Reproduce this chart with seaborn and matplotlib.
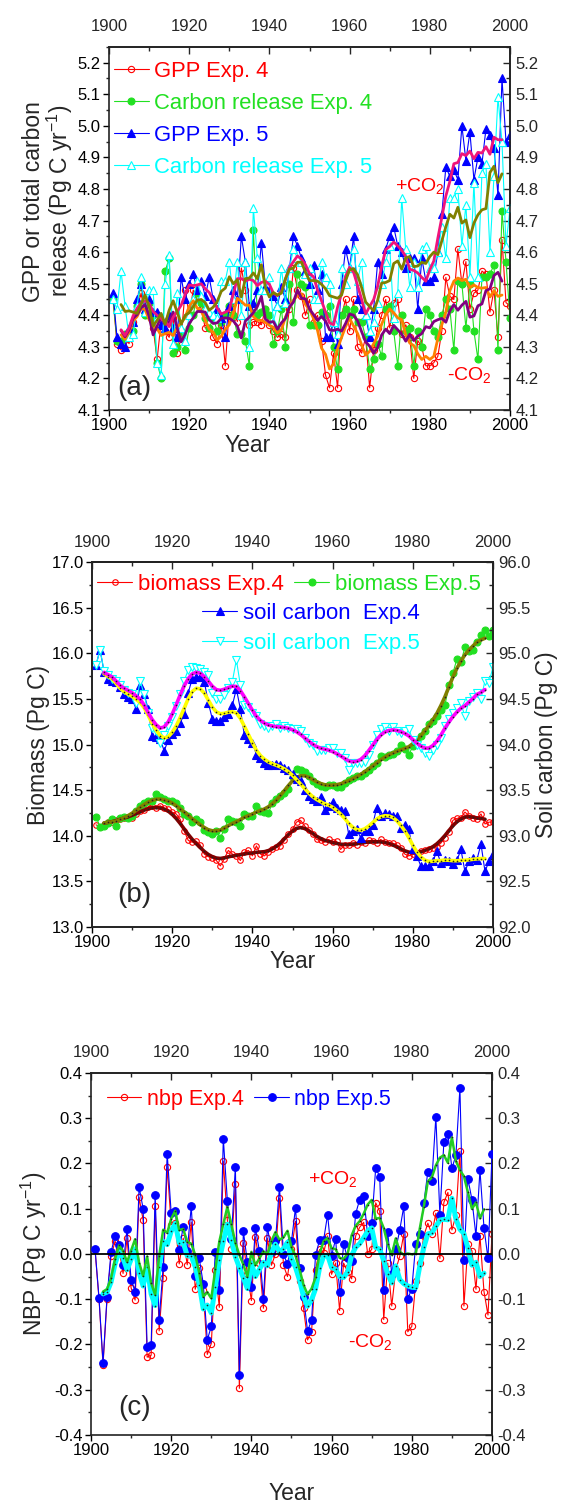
import numpy as np
import pandas as pd
import matplotlib
matplotlib.use("Agg")
import matplotlib.pyplot as plt
import seaborn as sns
from matplotlib.lines import Line2D
from matplotlib.ticker import MultipleLocator, FormatStrFormatter

sns.set_theme(style="ticks")
plt.rcParams["font.family"] = ["Liberation Sans", "DejaVu Sans"]
plt.rcParams["mathtext.fontset"] = "custom"
plt.rcParams["mathtext.rm"] = "Liberation Sans"
plt.rcParams["mathtext.it"] = "Liberation Sans:italic"
plt.rcParams["mathtext.default"] = "regular"

# ---------------- data ----------------
years = np.arange(1901, 2001)

# panel (a)
gpp_exp4 = [4.45, 4.31, 4.29, 4.33, 4.31, 4.38, 4.42, 4.47, 4.40, 4.44,
            4.36, 4.26, 4.38, 4.35, 4.33, 4.39, 4.28, 4.33, 4.48, 4.40,
            4.48, 4.45, 4.42, 4.36, 4.36, 4.33, 4.31, 4.37, 4.24, 4.42,
            4.44, 4.38, 4.55, 4.48, 4.37, 4.38, 4.38, 4.37, 4.42, 4.37,
            4.35, 4.33, 4.34, 4.33, 4.42, 4.55, 4.48, 4.46, 4.40, 4.45,
            4.38, 4.40, 4.32, 4.21, 4.17, 4.28, 4.17, 4.40, 4.45, 4.35,
            4.45, 4.30, 4.28, 4.33, 4.17, 4.29, 4.36, 4.40, 4.45, 4.36,
            4.44, 4.45, 4.34, 4.37, 4.33, 4.20, 4.32, 4.30, 4.24, 4.24,
            4.25, 4.27, 4.35, 4.52, 4.46, 4.45, 4.61, 4.50, 4.57, 4.42,
            4.47, 4.48, 4.54, 4.53, 4.41, 4.48, 4.33, 4.64, 4.44, 4.43]
crel_exp4 = [4.45, 4.32, 4.32, 4.34, 4.33, 4.35, 4.43, 4.50, 4.40, 4.44,
             4.40, 4.25, 4.20, 4.54, 4.58, 4.28, 4.30, 4.35, 4.29, 4.36,
             4.40, 4.47, 4.44, 4.39, 4.36, 4.39, 4.35, 4.38, 4.40, 4.43,
             4.40, 4.34, 4.34, 4.32, 4.24, 4.67, 4.40, 4.41, 4.42, 4.40,
             4.31, 4.35, 4.42, 4.30, 4.50, 4.38, 4.53, 4.50, 4.49, 4.37,
             4.37, 4.37, 4.41, 4.40, 4.43, 4.30, 4.23, 4.40, 4.42, 4.40,
             4.42, 4.38, 4.38, 4.33, 4.23, 4.26, 4.31, 4.27, 4.42, 4.43,
             4.35, 4.24, 4.40, 4.35, 4.36, 4.24, 4.35, 4.30, 4.42, 4.40,
             4.35, 4.33, 4.40, 4.45, 4.42, 4.29, 4.51, 4.50, 4.36, 4.50,
             4.35, 4.26, 4.52, 4.52, 4.53, 4.56, 4.29, 4.73, 4.57, 4.39]
gpp_exp5 = [4.47, 4.33, 4.31, 4.30, 4.36, 4.38, 4.45, 4.50, 4.42, 4.45,
            4.41, 4.41, 4.37, 4.36, 4.40, 4.36, 4.33, 4.52, 4.45, 4.50,
            4.53, 4.48, 4.51, 4.46, 4.52, 4.45, 4.42, 4.39, 4.33, 4.43,
            4.48, 4.45, 4.65, 4.57, 4.43, 4.44, 4.48, 4.63, 4.49, 4.48,
            4.46, 4.43, 4.49, 4.45, 4.55, 4.65, 4.62, 4.58, 4.54, 4.50,
            4.56, 4.48, 4.53, 4.33, 4.33, 4.38, 4.31, 4.50, 4.61, 4.55,
            4.65, 4.45, 4.42, 4.40, 4.33, 4.42, 4.57, 4.53, 4.61, 4.65,
            4.68, 4.62, 4.60, 4.55, 4.58, 4.58, 4.42, 4.58, 4.51, 4.51,
            4.52, 4.60, 4.72, 4.87, 4.84, 4.86, 4.83, 5.00, 4.89, 4.98,
            4.83, 4.90, 4.88, 4.99, 4.97, 4.93, 4.78, 5.15, 4.95, 4.97]
crel_exp5 = [4.45, 4.42, 4.54, 4.43, 4.33, 4.34, 4.43, 4.52, 4.41, 4.48,
             4.48, 4.25, 4.21, 4.50, 4.59, 4.31, 4.47, 4.36, 4.32, 4.40,
             4.45, 4.51, 4.46, 4.42, 4.41, 4.40, 4.39, 4.51, 4.51, 4.57,
             4.45, 4.57, 4.40, 4.57, 4.30, 4.74, 4.58, 4.48, 4.48, 4.52,
             4.38, 4.43, 4.55, 4.44, 4.55, 4.61, 4.58, 4.57, 4.53, 4.55,
             4.45, 4.45, 4.57, 4.52, 4.50, 4.38, 4.34, 4.55, 4.50, 4.55,
             4.61, 4.51, 4.57, 4.40, 4.35, 4.38, 4.44, 4.50, 4.57, 4.62,
             4.39, 4.47, 4.77, 4.61, 4.49, 4.57, 4.49, 4.61, 4.62, 4.55,
             4.55, 4.60, 4.68, 4.58, 4.77, 4.77, 4.80, 4.62, 4.75, 4.52,
             4.82, 4.52, 4.85, 4.88, 4.60, 4.84, 5.09, 4.95, 4.62, 4.74]

# panel (b)
biomass_exp4 = [14.12, 14.10, 14.12, 14.15, 14.15, 14.17, 14.18, 14.20, 14.21, 14.20,
                14.24, 14.27, 14.28, 14.32, 14.33, 14.31, 14.33, 14.30, 14.29, 14.26,
                14.24, 14.18, 14.05, 13.95, 13.93, 13.94, 13.90, 13.80, 13.77, 13.76,
                13.73, 13.67, 13.75, 13.84, 13.80, 13.78, 13.73, 13.82, 13.84, 13.78,
                13.89, 13.80, 13.78, 13.82, 13.85, 13.88, 13.89, 13.95, 14.02, 14.07,
                14.15, 14.17, 14.11, 14.06, 14.02, 13.96, 13.95, 13.93, 13.96, 13.93,
                13.94, 13.85, 13.90, 13.90, 13.92, 13.90, 13.93, 13.92, 13.95, 13.94,
                13.92, 13.96, 13.93, 13.92, 13.92, 13.90, 13.87, 13.80, 13.78, 13.80,
                13.80, 13.83, 13.84, 13.85, 13.87, 13.88, 13.92, 13.98, 14.04, 14.17,
                14.19, 14.20, 14.26, 14.22, 14.20, 14.18, 14.24, 14.13, 14.15, 14.15]
biomass_exp5 = [14.21, 14.10, 14.11, 14.14, 14.18, 14.11, 14.19, 14.21, 14.20, 14.22,
                14.27, 14.33, 14.36, 14.38, 14.38, 14.46, 14.42, 14.40, 14.38, 14.38,
                14.36, 14.31, 14.24, 14.22, 14.15, 14.18, 14.15, 14.06, 14.04, 14.02,
                14.05, 13.98, 14.07, 14.18, 14.16, 14.15, 14.11, 14.24, 14.22, 14.22,
                14.33, 14.27, 14.26, 14.25, 14.36, 14.40, 14.44, 14.47, 14.51, 14.64,
                14.73, 14.72, 14.70, 14.65, 14.60, 14.57, 14.55, 14.54, 14.56, 14.56,
                14.54, 14.54, 14.58, 14.61, 14.63, 14.65, 14.66, 14.69, 14.72, 14.76,
                14.80, 14.87, 14.86, 14.89, 14.90, 14.93, 15.00, 14.95, 14.89, 14.98,
                15.05, 15.09, 15.15, 15.22, 15.26, 15.31, 15.38, 15.43, 15.65, 15.78,
                15.94, 15.90, 16.07, 16.02, 16.04, 16.12, 16.20, 16.26, 16.19, 16.26]
soil_exp4 = [94.87, 95.04, 94.80, 94.72, 94.70, 94.69, 94.63, 94.55, 94.52, 94.50,
             94.39, 94.65, 94.55, 94.39, 94.09, 94.08, 94.06, 93.93, 94.05, 94.12,
             94.15, 94.24, 94.33, 94.57, 94.72, 94.74, 94.74, 94.69, 94.46, 94.28,
             94.26, 94.26, 94.30, 94.33, 94.43, 94.61, 94.39, 94.10, 94.06, 94.02,
             93.89, 93.85, 93.80, 93.78, 93.78, 93.79, 93.78, 93.74, 93.72, 93.68,
             93.62, 93.60, 93.50, 93.44, 93.40, 93.38, 93.42, 93.28, 93.33, 93.37,
             93.30, 93.28, 93.27, 93.02, 93.05, 93.07, 92.98, 93.05, 93.05, 93.12,
             93.31, 93.22, 93.25, 93.24, 93.22, 93.22, 93.09, 93.12, 93.07, 92.85,
             92.78, 92.67, 92.67, 92.67, 92.72, 92.83, 92.70, 92.74, 92.72, 92.69,
             92.73, 92.85, 92.61, 92.72, 92.76, 92.74, 92.91, 92.61, 92.72, 92.80]
soil_exp5 = [94.87, 95.04, 94.81, 94.76, 94.72, 94.70, 94.65, 94.60, 94.57, 94.55,
             94.45, 94.70, 94.55, 94.35, 94.18, 94.15, 94.02, 94.10, 94.20, 94.30,
             94.42, 94.55, 94.70, 94.82, 94.85, 94.84, 94.83, 94.80, 94.76, 94.57,
             94.50, 94.50, 94.54, 94.62, 94.69, 94.93, 94.65, 94.43, 94.41, 94.35,
             94.31, 94.22, 94.20, 94.18, 94.20, 94.22, 94.18, 94.20, 94.18, 94.17,
             94.17, 94.15, 94.07, 94.02, 94.00, 93.93, 93.94, 93.94, 93.96, 93.96,
             93.91, 93.91, 93.85, 93.72, 93.80, 93.80, 93.80, 93.81, 93.89, 94.00,
             94.10, 94.17, 94.19, 94.15, 94.19, 94.15, 94.13, 94.15, 94.17, 94.05,
             94.00, 93.96, 93.91, 93.87, 93.94, 94.00, 94.07, 94.20, 94.28, 94.35,
             94.40, 94.45, 94.31, 94.48, 94.52, 94.57, 94.50, 94.70, 94.68, 94.85]

# panel (c)
nbp_exp4 = [0.010, -0.100, -0.245, -0.100, -0.005, 0.028, 0.010, -0.043, 0.035, -0.075,
            -0.102, 0.125, 0.075, -0.228, -0.224, 0.105, -0.170, -0.053, 0.193, 0.065,
            0.068, -0.022, 0.035, -0.024, 0.070, -0.078, -0.030, -0.080, -0.222, -0.198,
            -0.035, -0.118, 0.205, 0.075, 0.012, 0.155, -0.297, 0.025, -0.045, -0.103,
            0.038, -0.020, -0.120, 0.035, -0.025, 0.000, 0.123, -0.025, -0.050, 0.010,
            0.072, -0.060, -0.120, -0.190, -0.172, -0.035, 0.010, 0.002, 0.040, -0.045,
            -0.020, -0.125, -0.020, -0.040, -0.055, 0.040, 0.059, 0.070, 0.000, 0.010,
            0.113, 0.094, -0.145, -0.020, -0.115, -0.035, -0.005, 0.044, -0.172, -0.160,
            -0.060, -0.020, 0.040, 0.068, 0.044, 0.090, -0.010, 0.114, 0.136, 0.053,
            0.085, 0.227, -0.115, 0.022, 0.007, -0.078, 0.040, -0.083, -0.135, 0.044]
nbp_exp5 = [0.012, -0.097, -0.240, -0.095, 0.004, 0.040, 0.020, -0.025, 0.055, -0.057,
            -0.083, 0.148, 0.100, -0.205, -0.202, 0.131, -0.147, -0.028, 0.222, 0.090,
            0.096, 0.009, 0.060, 0.007, 0.105, -0.048, -0.010, -0.066, -0.190, -0.160,
            0.005, -0.080, 0.255, 0.118, 0.032, 0.193, -0.268, 0.050, -0.018, -0.073,
            0.057, 0.007, -0.099, 0.060, 0.004, 0.028, 0.149, 0.000, -0.023, 0.028,
            0.102, -0.032, -0.095, -0.170, -0.147, -0.002, 0.030, 0.030, 0.087, -0.004,
            0.033, -0.084, 0.022, -0.010, -0.015, 0.089, 0.120, 0.128, 0.040, 0.068,
            0.190, 0.171, -0.079, 0.048, -0.044, 0.010, 0.053, 0.105, -0.099, -0.077,
            0.023, 0.044, 0.112, 0.182, 0.161, 0.303, 0.087, 0.247, 0.266, 0.189,
            0.218, 0.367, -0.013, 0.166, 0.120, 0.040, 0.185, 0.058, -0.010, 0.220]

year_ticks = [1900, 1920, 1940, 1960, 1980, 2000]


def running_mean(v, w=5):
    return pd.Series(v).rolling(w, center=True).mean().to_numpy()


def smooth2(v):
    s1 = pd.Series(running_mean(v, 5))
    s2 = s1.rolling(5, center=True, min_periods=1).mean()
    s2[s1.isna()] = np.nan
    return s2.to_numpy()


RED, GREEN, BLUE, CYAN = "#FF0000", "#22E022", "#0000FF", "#00FFFF"
FS_TICK, FS_LAB = 12, 16.5


def data_line(ax, y, color, marker, ms, mfc, lw=0.8, z=2):
    sns.lineplot(x=years, y=y, ax=ax, color=color, lw=lw, marker=marker,
                 markersize=ms, markerfacecolor=mfc, markeredgecolor=color,
                 markeredgewidth=0.8, estimator=None, legend=False, zorder=z)


def smooth_line(ax, y, color, lw, dots=False, z=5):
    kw = {}
    if dots:
        kw = dict(marker="o", markersize=1.2, markerfacecolor="#222222",
                  markeredgecolor="#222222", markeredgewidth=0)
    sns.lineplot(x=years, y=y, ax=ax, color=color, lw=lw, estimator=None,
                 legend=False, zorder=z, **kw)


def style_axes(ax, ylim, ymaj, ymin, yfmt, right_secondary=True, top_pad=9):
    ax.set_xlim(1900, 2000)
    ax.set_ylim(*ylim)
    ax.set_xticks(year_ticks)
    ax.xaxis.set_minor_locator(MultipleLocator(10))
    ax.yaxis.set_major_locator(MultipleLocator(ymaj))
    ax.yaxis.set_minor_locator(MultipleLocator(ymin))
    ax.yaxis.set_major_formatter(FormatStrFormatter(yfmt))
    ax.tick_params(axis="both", which="major", direction="out", length=4,
                   width=1, labelsize=FS_TICK, colors="black", pad=2)
    ax.tick_params(axis="both", which="minor", direction="out", length=2.5, width=1)
    ax.tick_params(right=False, top=False)
    for s in ax.spines.values():
        s.set_linewidth(1.2)
        s.set_color("#222222")
        s.set_visible(True)
    top = ax.secondary_xaxis("top")
    top.set_xticks(year_ticks)
    top.xaxis.set_minor_locator(MultipleLocator(10))
    top.tick_params(which="major", direction="in", length=5, width=1,
                    labelsize=FS_TICK, pad=top_pad)
    top.tick_params(which="minor", direction="in", length=3, width=1)
    top.spines["top"].set_linewidth(1.2)
    if right_secondary:
        r = ax.secondary_yaxis("right")
        r.set_yticks(np.round(np.arange(ylim[0], ylim[1] + 1e-9, ymaj), 2) + 0.0)
        r.yaxis.set_minor_locator(MultipleLocator(ymin))
        r.yaxis.set_major_formatter(FormatStrFormatter(yfmt))
        r.tick_params(which="major", direction="in", length=5, width=1,
                      labelsize=FS_TICK, pad=4)
        r.tick_params(which="minor", direction="in", length=3, width=1)
        r.spines["right"].set_linewidth(1.2)
    ax.set_xlabel("Year", fontsize=FS_LAB)


def handle(color, marker, ms, mfc):
    return Line2D([0], [0], color=color, lw=0.8, marker=marker, markersize=ms,
                  markerfacecolor=mfc, markeredgecolor=color, markeredgewidth=0.8)


fig = plt.figure(figsize=(5.61, 15.04), dpi=100)
fig.patch.set_facecolor("white")

# ---------------- panel (a) ----------------
axa = fig.add_axes([0.1943, 0.7274, 0.7148, 0.2414])
data_line(axa, gpp_exp4, RED, "o", 4.5, "none")
data_line(axa, crel_exp4, GREEN, "o", 5, GREEN)
data_line(axa, gpp_exp5, BLUE, "^", 5.5, BLUE)
data_line(axa, crel_exp5, CYAN, "^", 5.5, "white")
smooth_line(axa, running_mean(gpp_exp4), "#FF8000", 2.0)
smooth_line(axa, running_mean(crel_exp4), "#800080", 2.0)
smooth_line(axa, running_mean(gpp_exp5), "#F0147A", 2.0)
smooth_line(axa, running_mean(crel_exp5), "#808000", 2.0)
style_axes(axa, (4.1, 5.25), 0.1, 0.05, "%.1f", top_pad=9)
axa.set_ylabel("GPP or total carbon\nrelease (Pg C yr$^{-1}$)", fontsize=FS_LAB,
               linespacing=1.0)
axa.yaxis.set_label_coords(-0.085, 0.575)
axa.xaxis.set_label_coords(0.347, -0.065)
ha = [handle(RED, "o", 4.5, "none"), handle(GREEN, "o", 5, GREEN),
      handle(BLUE, "^", 5.5, BLUE), handle(CYAN, "^", 5.5, "white")]
la = ["GPP Exp. 4", "Carbon release Exp. 4", "GPP Exp. 5", "Carbon release Exp. 5"]
axa.legend(ha, la, loc="upper left", bbox_to_anchor=(0.012, 0.961), frameon=False,
           fontsize=15.8, handlelength=1.6, handletextpad=0.25, labelspacing=0.5,
           borderpad=0, borderaxespad=0, numpoints=1,
           labelcolor=[RED, GREEN, BLUE, CYAN])
axa.text(1971.3, 4.81, "+CO$_2$", color=RED, fontsize=14, va="center", ha="left")
axa.text(1984.3, 4.21, "-CO$_2$", color=RED, fontsize=14, va="center", ha="left")
axa.text(1902, 4.17, "(a)", fontsize=20, va="center", ha="left")

# ---------------- panel (b) ----------------
axb = fig.add_axes([0.1640, 0.3836, 0.7148, 0.2427])
data_line(axb, biomass_exp4, RED, "o", 4, "none")
data_line(axb, biomass_exp5, GREEN, "o", 5, GREEN)
smooth_line(axb, smooth2(biomass_exp4), "#800000", 2.6, dots=True)
smooth_line(axb, smooth2(biomass_exp5), "#808000", 2.6, dots=True)
style_axes(axb, (13.0, 17.0), 0.5, 0.25, "%.1f", right_secondary=False, top_pad=9)
axb2 = axb.twinx()
axb2.set_ylim(92, 96)
data_line(axb2, soil_exp4, BLUE, "^", 5.5, BLUE)
data_line(axb2, soil_exp5, CYAN, "v", 5.5, "white")
smooth_line(axb2, smooth2(soil_exp4), "#FFFF00", 2.6, dots=True)
smooth_line(axb2, smooth2(soil_exp5), "#FF00FF", 2.6, dots=True)
axb2.yaxis.set_major_locator(MultipleLocator(0.5))
axb2.yaxis.set_minor_locator(MultipleLocator(0.25))
axb2.yaxis.set_major_formatter(FormatStrFormatter("%.1f"))
axb2.tick_params(which="major", direction="in", length=5, width=1,
                 labelsize=FS_TICK, pad=4)
axb2.tick_params(which="minor", direction="in", length=3, width=1)
axb2.set_ylabel("Soil carbon (Pg C)", fontsize=FS_LAB)
axb2.yaxis.set_label_coords(1.105, 0.5)
for s in axb2.spines.values():
    s.set_linewidth(1.2)
    s.set_color("#222222")
axb.set_ylabel("Biomass (Pg C)", fontsize=FS_LAB)
axb.yaxis.set_label_coords(-0.105, 0.5)
axb.xaxis.set_label_coords(0.5, -0.062)
hb1 = [handle(RED, "o", 4, "none"), handle(GREEN, "o", 5, GREEN)]
leg1 = axb2.legend(hb1, ["biomass Exp.4", "biomass Exp.5"], loc="upper left",
                   bbox_to_anchor=(0.012, 0.967), ncol=2, frameon=False,
                   fontsize=16, handlelength=1.6, handletextpad=0.25,
                   columnspacing=0.45, borderpad=0, borderaxespad=0, numpoints=1,
                   labelcolor=[RED, GREEN])
axb2.add_artist(leg1)
hb2 = [handle(BLUE, "^", 5.5, BLUE), handle(CYAN, "v", 5.5, "white")]
axb2.legend(hb2, ["soil carbon  Exp.4", "soil carbon  Exp.5"], loc="upper left",
            bbox_to_anchor=(0.274, 0.889), frameon=False, fontsize=16,
            handlelength=1.6, handletextpad=0.25, labelspacing=0.42,
            borderpad=0, borderaxespad=0, numpoints=1, labelcolor=[BLUE, CYAN])
axb.text(1906.2, 13.35, "(b)", fontsize=20, va="center", ha="left")

# ---------------- panel (c) ----------------
axc = fig.add_axes([0.1622, 0.0459, 0.7148, 0.2407])
data_line(axc, nbp_exp4, RED, "o", 4.5, "none", lw=0.8)
data_line(axc, nbp_exp5, BLUE, "o", 5.5, BLUE, lw=0.8, z=3)
smooth_line(axc, running_mean(nbp_exp4), CYAN, 3.6, dots=True)
smooth_line(axc, running_mean(nbp_exp5), "#22CC22", 1.8, dots=True, z=6)
axc.axhline(0, color="black", lw=1.3, zorder=7)
style_axes(axc, (-0.4, 0.4), 0.1, 0.05, "%.1f", top_pad=9)
axc.set_ylabel("NBP (Pg C yr$^{-1}$)", fontsize=FS_LAB)
axc.yaxis.set_label_coords(-0.105, 0.5)
axc.xaxis.set_label_coords(0.5, -0.13)
hc = [handle(RED, "o", 4.5, "none"), handle(BLUE, "o", 5.5, BLUE)]
axc.legend(hc, ["nbp Exp.4", "nbp Exp.5"], loc="upper left",
           bbox_to_anchor=(0.04, 0.956), ncol=2, frameon=False, fontsize=15.5,
           handlelength=1.6, handletextpad=0.25, columnspacing=0.5,
           borderpad=0, borderaxespad=0, numpoints=1, labelcolor=[RED, BLUE])
axc.text(1954.1, 0.165, "+CO$_2$", color=RED, fontsize=14, va="center", ha="left")
axc.text(1964.1, -0.195, "-CO$_2$", color=RED, fontsize=14, va="center", ha="left")
axc.text(1906.7, -0.34, "(c)", fontsize=20, va="center", ha="left")

fig.savefig("out.png", dpi=100, facecolor="white")
